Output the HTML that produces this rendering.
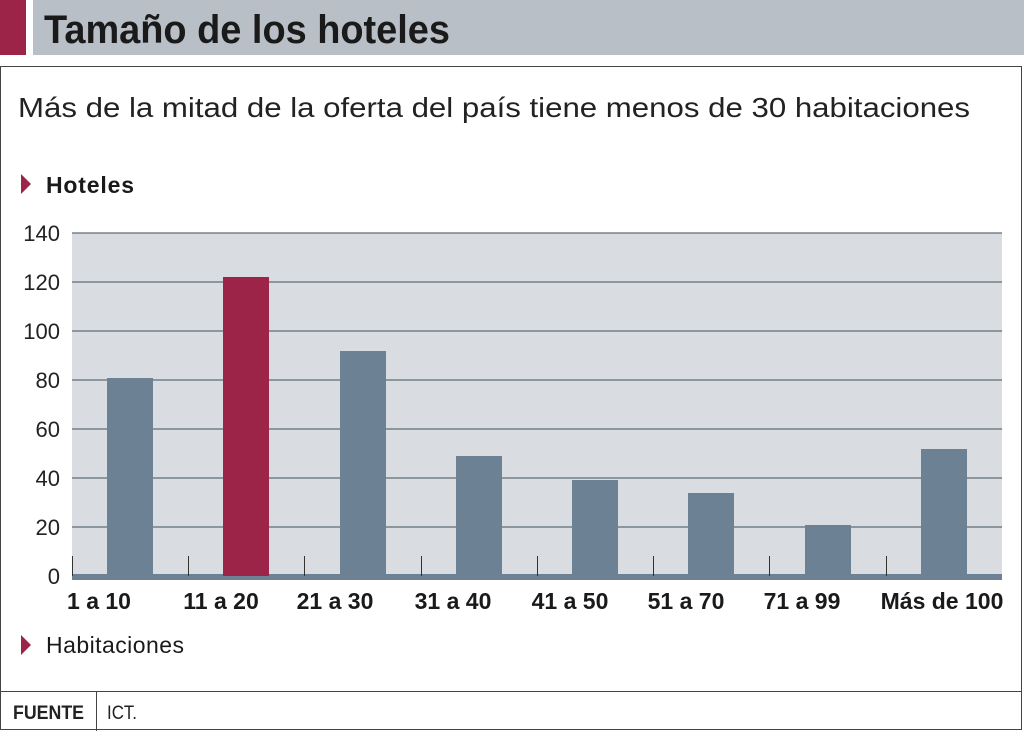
<!DOCTYPE html><html><head><style>
body{margin:0;width:1024px;height:731px;background:#fff;position:relative;overflow:hidden;font-family:"Liberation Sans",sans-serif;}
.a{position:absolute}
</style></head><body>
<div class="a" style="left:0;top:0;width:26px;height:55px;background:#9b2448"></div>
<div class="a" style="left:33px;top:0;width:991px;height:55px;background:#b9bfc7"></div>
<div class="a" style="left:0;top:66px;width:1020px;height:662px;border:1.5px solid #444"></div>
<div class="a" style="left:0;top:691px;width:1022px;height:1px;background:#444"></div>
<div class="a" style="left:96px;top:691px;width:1px;height:40px;background:#444"></div>
<svg class="a" style="left:0;top:0" width="1024" height="731">
<text x="44" y="43" font-size="40" font-weight="bold" fill="#1a1a1a" textLength="406" lengthAdjust="spacingAndGlyphs">Tamaño de los hoteles</text>
<text x="18" y="117" font-size="28" fill="#222" textLength="952" lengthAdjust="spacingAndGlyphs">Más de la mitad de la oferta del país tiene menos de 30 habitaciones</text>
<text x="13" y="719" font-size="19" font-weight="bold" fill="#222" textLength="71" lengthAdjust="spacingAndGlyphs">FUENTE</text>
<text x="107" y="719" font-size="19" fill="#222" textLength="30" lengthAdjust="spacingAndGlyphs">ICT.</text>
<polygon points="21,174 31,184 21,194" fill="#9b2448"/>
<polygon points="21,635 31,645 21,655" fill="#9b2448"/>
<text x="46" y="193" font-size="23" font-weight="bold" fill="#1a1a1a" textLength="88">Hoteles</text>
<text x="46" y="653" font-size="23" fill="#1a1a1a" textLength="138">Habitaciones</text>
<rect x="72" y="233" width="930" height="343" fill="#d9dde2"/>
<g stroke="#5f6b76" stroke-width="1.3">
<line x1="72" y1="233" x2="1002" y2="233"/><line x1="72" y1="282" x2="1002" y2="282"/><line x1="72" y1="331" x2="1002" y2="331"/><line x1="72" y1="380" x2="1002" y2="380"/><line x1="72" y1="429" x2="1002" y2="429"/><line x1="72" y1="478" x2="1002" y2="478"/><line x1="72" y1="527" x2="1002" y2="527"/>
</g>
<g fill="#6c8193">
<rect x="107" y="378" width="46" height="198"/>
<rect x="340" y="351" width="46" height="225"/>
<rect x="456" y="456" width="46" height="120"/>
<rect x="572" y="480" width="46" height="96"/>
<rect x="688" y="493" width="46" height="83"/>
<rect x="805" y="525" width="46" height="51"/>
<rect x="921" y="449" width="46" height="127"/>
<rect x="72" y="574" width="930" height="6"/>
</g>
<rect x="223" y="277" width="46" height="299" fill="#9b2448"/>
<g stroke="#333" stroke-width="1">
<line x1="72.5" y1="556" x2="72.5" y2="576"/><line x1="188.5" y1="556" x2="188.5" y2="576"/><line x1="304.5" y1="556" x2="304.5" y2="576"/><line x1="421.5" y1="556" x2="421.5" y2="576"/><line x1="537.5" y1="556" x2="537.5" y2="576"/><line x1="653.5" y1="556" x2="653.5" y2="576"/><line x1="769.5" y1="556" x2="769.5" y2="576"/><line x1="886.5" y1="556" x2="886.5" y2="576"/>
</g>
<g font-size="22" fill="#222" text-anchor="end">
<text x="60" y="241">140</text><text x="60" y="290">120</text><text x="60" y="339">100</text><text x="60" y="388">80</text><text x="60" y="437">60</text><text x="60" y="486">40</text><text x="60" y="535">20</text><text x="60" y="584">0</text>
</g>
<g font-size="23" font-weight="bold" fill="#1a1a1a" text-anchor="middle">
<text x="99" y="609">1 a 10</text><text x="221" y="609">11 a 20</text><text x="335" y="609">21 a 30</text><text x="453" y="609">31 a 40</text><text x="570" y="609">41 a 50</text><text x="686" y="609">51 a 70</text><text x="802" y="609">71 a 99</text><text x="942" y="609">Más de 100</text>
</g>
</svg>
</body></html>
